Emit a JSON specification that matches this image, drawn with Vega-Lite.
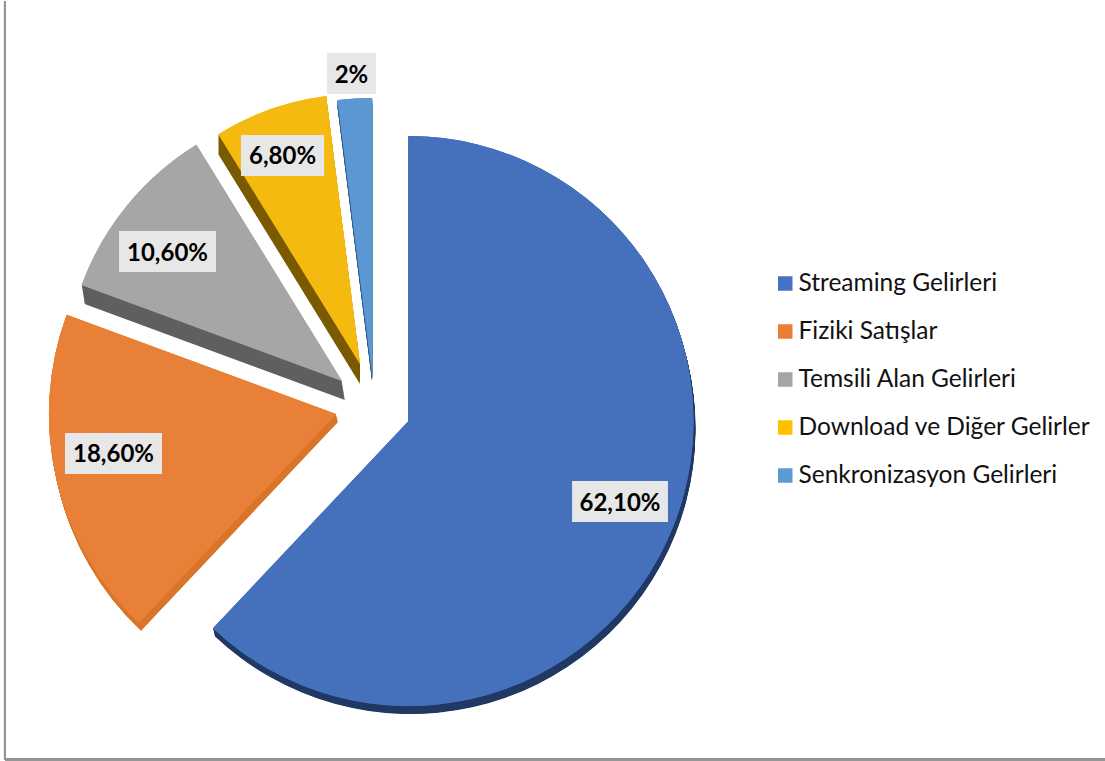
{
"$schema":"https://vega.github.io/schema/vega-lite/v6.json",
"width":1105,"height":761,"padding":0,
"autosize":{"type":"fit","contains":"padding"},
"background":"white",
"view":{"stroke":null},
"data":{"values":[
{"kaynak":"Streaming Gelirleri","pay":62.1,"etiket":"62,10%"},
{"kaynak":"Fiziki Satışlar","pay":18.6,"etiket":"18,60%"},
{"kaynak":"Temsili Alan Gelirleri","pay":10.6,"etiket":"10,60%"},
{"kaynak":"Download ve Diğer Gelirler","pay":6.8,"etiket":"6,80%"},
{"kaynak":"Senkronizasyon Gelirleri","pay":2,"etiket":"2%"}
]},
"transform":[
{"stack":"pay","groupby":[],"as":["bas","son"]},
{"calculate":"{'Streaming Gelirleri':36.97,'Fiziki Satışlar':30.41,'Temsili Alan Gelirleri':30.95,'Download ve Diğer Gelirler':32.58,'Senkronizasyon Gelirleri':33.67}[datum.kaynak]","as":"ux"},
{"calculate":"{'Streaming Gelirleri':55.19,'Fiziki Satışlar':54.27,'Temsili Alan Gelirleri':49.93,'Download ve Diğer Gelirler':47.70,'Senkronizasyon Gelirleri':48.88}[datum.kaynak]","as":"uy"},
{"calculate":"{'Streaming Gelirleri':0.95,'Fiziki Satışlar':0.957,'Temsili Alan Gelirleri':0.925,'Download ve Diğer Gelirler':0.9,'Senkronizasyon Gelirleri':0.917}[datum.kaynak]","as":"yaricap"},
{"calculate":"{'Streaming Gelirleri':0.18,'Fiziki Satışlar':0.18,'Temsili Alan Gelirleri':0.27,'Download ve Diğer Gelirler':0,'Senkronizasyon Gelirleri':0}[datum.kaynak]","as":"sx"},
{"calculate":"{'Streaming Gelirleri':1.05,'Fiziki Satışlar':1.05,'Temsili Alan Gelirleri':2.5,'Download ve Diğer Gelirler':2.63,'Senkronizasyon Gelirleri':1.05}[datum.kaynak]","as":"sy"},
{"calculate":"{'Streaming Gelirleri':'#4570BC','Fiziki Satışlar':'#E98037','Temsili Alan Gelirleri':'#A6A6A6','Download ve Diğer Gelirler':'#F5BA10','Senkronizasyon Gelirleri':'#5B98D3'}[datum.kaynak]","as":"yuz"},
{"calculate":"{'Streaming Gelirleri':'#1F3864','Fiziki Satışlar':'#D97529','Temsili Alan Gelirleri':'#5F5F5F','Download ve Diğer Gelirler':'#7A5A00','Senkronizasyon Gelirleri':'#2F5F8A'}[datum.kaynak]","as":"yan"},
{"calculate":"{'Streaming Gelirleri':56.11,'Fiziki Satışlar':10.27,'Temsili Alan Gelirleri':15.16,'Download ve Diğer Gelirler':25.57,'Senkronizasyon Gelirleri':31.81}[datum.kaynak]","as":"lx"},
{"calculate":"{'Streaming Gelirleri':65.77,'Fiziki Satışlar':59.46,'Temsili Alan Gelirleri':32.92,'Download ve Diğer Gelirler':20.30,'Senkronizasyon Gelirleri':9.53}[datum.kaynak]","as":"ly"},
{"calculate":"{'Streaming Gelirleri':4.34,'Fiziki Satışlar':4.39,'Temsili Alan Gelirleri':4.39,'Download ve Diğer Gelirler':3.76,'Senkronizasyon Gelirleri':2.22}[datum.kaynak]","as":"lw"},
{"calculate":"datum.lx-datum.lw","as":"bx1"},
{"calculate":"datum.lx+datum.lw","as":"bx2"},
{"calculate":"datum.ly-2.69","as":"by1"},
{"calculate":"datum.ly+2.69","as":"by2"}
],
"layer":[
{"mark":{"type":"rule","stroke":"#929292","strokeWidth":2},
 "encoding":{"x":{"datum":0.45,"type":"quantitative","scale":{"domain":[0,100],"range":[0,1105]},"axis":null}}},
{"mark":{"type":"rule","stroke":"#929292","strokeWidth":2},
 "encoding":{"y":{"datum":99.67,"type":"quantitative","scale":{"domain":[0,100],"range":[0,761]},"axis":null},
  "x":{"datum":0.45,"type":"quantitative","scale":{"domain":[0,100],"range":[0,1105]},"axis":null},"x2":{"datum":100}}},
{"transform":[{"calculate":"[0.05,0.1,0.15,0.2,0.25,0.3,0.35,0.4,0.45,0.5,0.55,0.6,0.65,0.7,0.75,0.8,0.85,0.9,0.95,1]","as":"adim"},{"flatten":["adim"]},
  {"calculate":"datum.ux+datum.adim*datum.sx","as":"ax"},{"calculate":"datum.uy+datum.adim*datum.sy","as":"ay"}],
 "mark":{"type":"arc"},
 "encoding":{
  "x":{"field":"ax","type":"quantitative","scale":{"domain":[0,100],"range":[0,1105]},"axis":null},
  "y":{"field":"ay","type":"quantitative","scale":{"domain":[0,100],"range":[0,761]},"axis":null},
  "theta":{"field":"bas","type":"quantitative","scale":{"domain":[0,100.1],"range":[0,6.28319]}},
  "theta2":{"field":"son"},
  "radius":{"field":"yaricap","type":"quantitative","scale":{"type":"linear","domain":[0,1],"range":[0,300]}},
  "fill":{"field":"yan","type":"nominal","scale":null}}},
{"mark":{"type":"arc"},
 "encoding":{
  "x":{"field":"ux","type":"quantitative","scale":{"domain":[0,100],"range":[0,1105]},"axis":null},
  "y":{"field":"uy","type":"quantitative","scale":{"domain":[0,100],"range":[0,761]},"axis":null},
  "theta":{"field":"bas","type":"quantitative","scale":{"domain":[0,100.1],"range":[0,6.28319]}},
  "theta2":{"field":"son"},
  "radius":{"field":"yaricap","type":"quantitative","scale":{"type":"linear","domain":[0,1],"range":[0,300]}},
  "color":{"field":"kaynak","type":"nominal",
   "scale":{"domain":["Streaming Gelirleri","Fiziki Satışlar","Temsili Alan Gelirleri","Download ve Diğer Gelirler","Senkronizasyon Gelirleri"],
            "range":["#4472C4","#ED7D31","#A5A5A5","#FFC000","#5B9BD5"]},
   "legend":{"title":null,"orient":"none","legendX":773,"legendY":267,"symbolType":"square","symbolSize":210,"symbolStrokeWidth":0,
     "labelFont":"Lato","labelFontSize":24.5,"labelColor":"#111111","labelLimit":340,"labelOffset":1,"rowPadding":17,"symbolOpacity":1,"clipHeight":31}}}},
{"mark":{"type":"arc"},
 "encoding":{
  "x":{"field":"ux","type":"quantitative","scale":{"domain":[0,100],"range":[0,1105]},"axis":null},
  "y":{"field":"uy","type":"quantitative","scale":{"domain":[0,100],"range":[0,761]},"axis":null},
  "theta":{"field":"bas","type":"quantitative","scale":{"domain":[0,100.1],"range":[0,6.28319]}},
  "theta2":{"field":"son"},
  "radius":{"field":"yaricap","type":"quantitative","scale":{"type":"linear","domain":[0,1],"range":[0,300]}},
  "fill":{"field":"yuz","type":"nominal","scale":null}}},
{"mark":{"type":"rect","fill":"#E7E7E7"},
 "encoding":{
  "x":{"field":"bx1","type":"quantitative","scale":{"domain":[0,100],"range":[0,1105]},"axis":null},
  "x2":{"field":"bx2"},
  "y":{"field":"by1","type":"quantitative","scale":{"domain":[0,100],"range":[0,761]},"axis":null},
  "y2":{"field":"by2"}}},
{"mark":{"type":"text","font":"Lato","fontWeight":"bold","fontSize":24,"dy":2,"color":"#000000","align":"center","baseline":"middle"},
 "encoding":{
  "x":{"field":"lx","type":"quantitative","scale":{"domain":[0,100],"range":[0,1105]},"axis":null},
  "y":{"field":"ly","type":"quantitative","scale":{"domain":[0,100],"range":[0,761]},"axis":null},
  "text":{"field":"etiket","type":"nominal"}}}
]
}
